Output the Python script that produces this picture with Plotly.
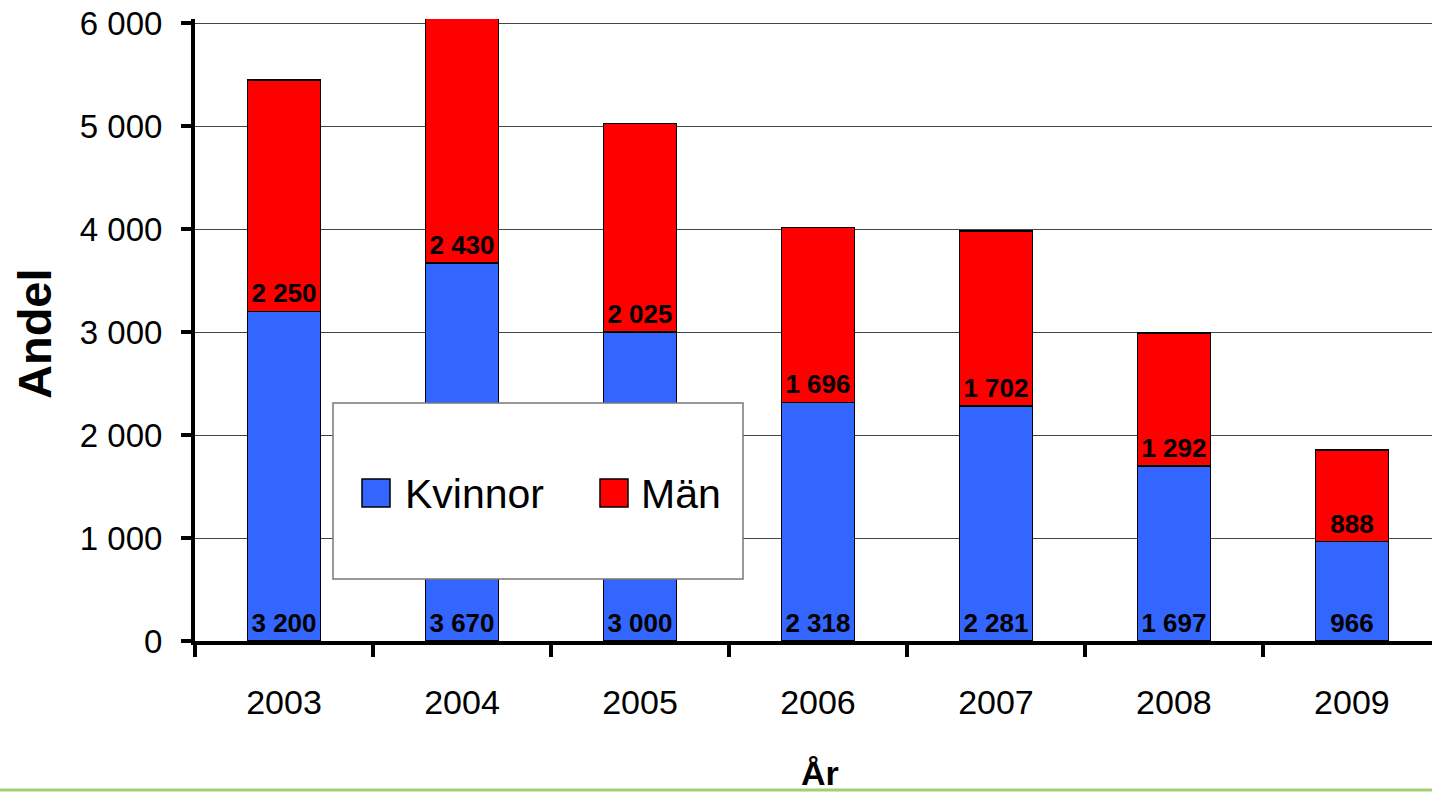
import plotly.graph_objects as go

years = ["2003", "2004", "2005", "2006", "2007", "2008", "2009"]
kvinnor = [3200, 3670, 3000, 2318, 2281, 1697, 966]
man = [2250, 2430, 2025, 1696, 1702, 1292, 888]
series_names = ["Kvinnor", "Män"]
series_colors = ["#3366FF", "#FF0000"]
y_ticks = [0, 1000, 2000, 3000, 4000, 5000, 6000]

W, H = 1432, 792
ML, MR, MT, MB = 195, 0, 19, 151
PW, PH = W - ML - MR, H - MT - MB


def px_x(px):
    return (px - ML) / PW


def px_y(py):
    return (H - MB - py) / PH


label_font = dict(family="Liberation Sans, Arial", size=26, color="black", weight="bold")

fig = go.Figure()
for name, vals, col in zip(series_names, [kvinnor, man], series_colors):
    fig.add_trace(go.Bar(
        x=years, y=vals, name=name,
        marker=dict(color=col, line=dict(color="black", width=1.5)),
        texttemplate="%{y:,d}", textposition="inside", insidetextanchor="start",
        textangle=0, insidetextfont=label_font, showlegend=False,
        cliponaxis=True,
    ))

fig.update_layout(
    width=W, height=H,
    margin=dict(l=ML, r=MR, t=MT, b=MB, autoexpand=False),
    barmode="stack", bargap=0.59,
    separators=", ",
    plot_bgcolor="white", paper_bgcolor="white",
    font=dict(family="Liberation Sans, Arial", color="black"),
)
fig.update_xaxes(
    type="category", range=[-0.5, 6.45], automargin=False,
    showline=True, linecolor="black", linewidth=4,
    ticks="outside", tickson="boundaries", ticklen=12, tickwidth=4, tickcolor="black",
    tickfont=dict(family="Liberation Sans, Arial", size=34, color="black"),
    ticklabelstandoff=28, showgrid=False,
)
fig.update_yaxes(
    range=[0, 6040], tickvals=y_ticks, tickformat=",d", automargin=False,
    showline=True, linecolor="black", linewidth=4,
    ticks="outside", ticklen=10, tickwidth=4, tickcolor="black",
    tickfont=dict(family="Liberation Sans, Arial", size=33, color="black"),
    ticklabelstandoff=12, ticklabeloverflow="allow",
    showgrid=True, gridcolor="#444444", gridwidth=1, zeroline=False,
)

# axis titles
fig.add_annotation(text="<b>Andel</b>", textangle=-90, xref="paper", yref="paper",
                   x=px_x(35), y=px_y(334), xanchor="center", yanchor="middle",
                   showarrow=False, font=dict(family="Liberation Sans, Arial", size=47, color="black"))
fig.add_annotation(text="<b>År</b>", xref="paper", yref="paper",
                   x=px_x(820), y=px_y(773), xanchor="center", yanchor="middle",
                   showarrow=False, font=dict(family="Liberation Sans, Arial", size=34, color="black"))

# legend box
fig.add_shape(type="rect", xref="paper", yref="paper",
              x0=px_x(333), x1=px_x(743), y0=px_y(579), y1=px_y(403),
              fillcolor="white", line=dict(color="#777777", width=1.5), layer="above")
sq_x = [362, 600]
txt_x = [403, 639]
for name, col, sx, tx in zip(series_names, series_colors, sq_x, txt_x):
    fig.add_shape(type="rect", xref="paper", yref="paper",
                  x0=px_x(sx), x1=px_x(sx + 28), y0=px_y(507), y1=px_y(479),
                  fillcolor=col, line=dict(color="black", width=1.5), layer="above")
    fig.add_annotation(text=name, xref="paper", yref="paper",
                       x=px_x(tx), y=px_y(494), xanchor="left", yanchor="middle",
                       showarrow=False, font=dict(family="Liberation Sans, Arial", size=41, color="black"))

# green slide line at bottom
fig.add_shape(type="line", xref="paper", yref="paper",
              x0=px_x(0), x1=px_x(1432), y0=px_y(790), y1=px_y(790),
              line=dict(color="#a3cf72", width=3), layer="above")

fig.write_html("out.html", config={"displayModeBar": False},
               post_script="document.body.style.margin='0';document.body.style.overflow='hidden';")
